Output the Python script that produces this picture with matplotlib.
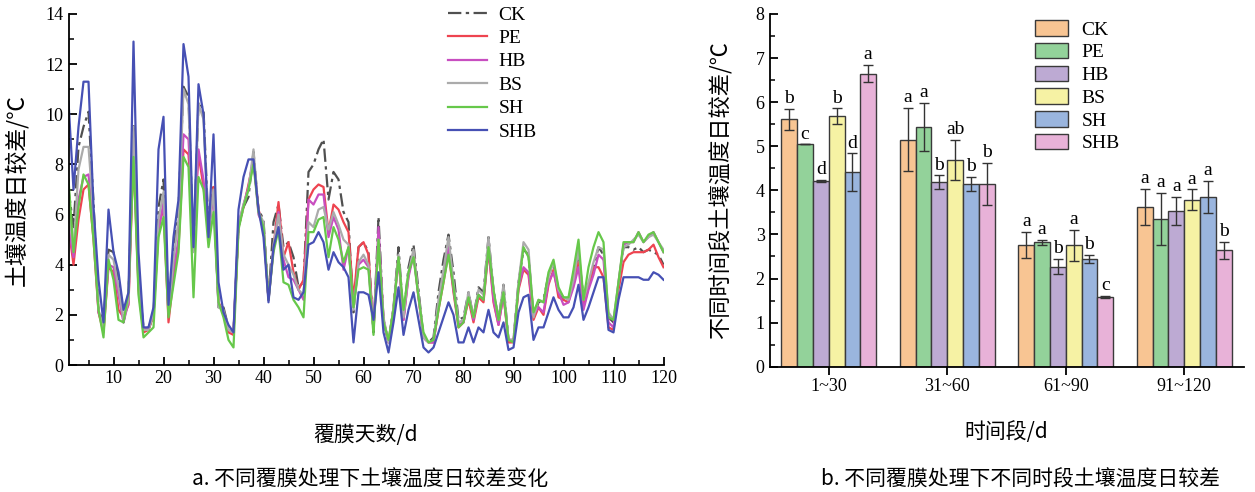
import matplotlib
matplotlib.use("Agg")
import matplotlib.pyplot as plt
import numpy as np
from matplotlib.ticker import MultipleLocator

# ---------------- data: daily range of soil temperature (left) ----------------
days = list(range(1, 121))
series_names = ["CK", "PE", "HB", "BS", "SH", "SHB"]

ck = [7.0, 5.5, 8.7, 9.5, 10.1, 6.5, 2.2, 1.7, 4.6, 4.5,
      3.3, 1.7, 2.7, 9.6, 3.4, 1.5, 1.4, 2.0, 6.3, 7.4,
      2.1, 4.4, 6.3, 11.1, 10.7, 4.5, 10.5, 10.2, 5.5, 7.1,
      2.3, 2.3, 1.5, 1.3, 5.5, 6.3, 6.7, 8.5, 6.2, 5.8,
      2.6, 5.7, 6.4, 4.7, 4.9, 4.3, 3.1, 3.3, 7.7, 8.0,
      8.6, 9.0, 6.6, 7.7, 7.4, 6.1, 5.7, 2.1, 4.7, 4.9,
      4.5, 1.3, 5.9, 1.8, 0.9, 2.3, 4.7, 1.9, 3.9, 4.8,
      3.0, 1.1, 0.9, 1.1, 2.9, 4.2, 5.2, 3.7, 1.8, 1.9,
      2.9, 1.9, 3.1, 2.9, 5.1, 3.0, 1.8, 3.2, 1.0, 1.0,
      3.3, 4.6, 4.4, 1.9, 2.5, 2.6, 3.6, 4.0, 2.9, 2.6,
      2.6, 3.5, 4.4, 2.7, 3.1, 3.9, 4.7, 4.4, 1.9, 1.7,
      3.1, 4.7, 4.7, 4.6, 4.7, 4.5, 4.6, 4.5, 4.4, 4.0]

pe = [5.5, 4.0, 5.8, 7.0, 7.2, 5.0, 2.1, 1.3, 3.9, 3.7,
      2.2, 1.9, 2.4, 8.4, 3.0, 1.3, 1.4, 2.0, 5.5, 6.3,
      1.7, 3.5, 4.7, 8.6, 8.4, 5.3, 8.4, 7.1, 5.3, 7.1,
      2.5, 2.1, 1.3, 1.2, 5.5, 6.3, 7.2, 8.2, 6.2, 5.5,
      2.6, 4.7, 6.5, 4.3, 4.9, 3.7, 3.0, 3.4, 6.6, 7.0,
      7.2, 7.1, 5.3, 6.4, 6.2, 5.7, 5.3, 2.6, 4.7, 4.9,
      4.4, 1.4, 5.0, 1.8, 0.9, 2.2, 4.3, 1.8, 3.6, 4.5,
      2.7, 1.1, 0.9, 0.9, 2.2, 3.3, 4.5, 2.9, 1.5, 1.7,
      2.6, 1.7, 2.7, 2.5, 4.6, 2.5, 1.6, 2.8, 0.9, 0.9,
      3.0, 3.8, 3.6, 1.8, 2.3, 2.0, 3.2, 3.8, 2.7, 2.6,
      2.5, 3.3, 4.1, 2.3, 3.1, 3.9, 3.9, 3.5, 1.5, 1.4,
      3.0, 4.1, 4.4, 4.5, 4.5, 4.5, 4.6, 4.8, 4.3, 3.9]

hb = [5.5, 4.3, 6.6, 7.5, 7.6, 5.5, 2.1, 1.5, 4.0, 3.9,
      2.8, 1.7, 2.5, 9.0, 3.2, 1.4, 1.5, 2.0, 5.3, 6.5,
      2.0, 3.8, 5.0, 9.2, 9.0, 5.0, 8.6, 7.4, 5.2, 6.8,
      2.4, 2.1, 1.4, 1.3, 5.6, 6.4, 7.1, 8.3, 6.0, 5.5,
      2.6, 4.6, 6.1, 4.2, 3.5, 3.4, 3.0, 2.6, 6.6, 6.4,
      6.8, 6.8, 5.1, 5.9, 5.4, 3.8, 4.7, 2.3, 4.0, 4.2,
      3.9, 1.4, 5.5, 1.8, 0.9, 2.2, 4.3, 1.8, 3.5, 4.4,
      2.7, 1.1, 0.9, 0.9, 2.3, 3.5, 4.8, 3.0, 1.6, 1.7,
      2.8, 1.8, 2.8, 2.6, 4.7, 2.6, 1.6, 2.8, 1.0, 1.0,
      3.1, 3.9, 3.7, 2.0, 2.3, 2.1, 3.3, 3.7, 2.9, 2.4,
      2.5, 3.1, 3.9, 2.2, 3.0, 3.6, 4.4, 4.2, 1.7, 1.5,
      3.3, 4.8, 4.9, 4.9, 5.3, 4.9, 5.1, 5.3, 4.9, 4.5]

bs = [6.2, 4.6, 7.8, 8.7, 8.7, 6.0, 2.2, 1.5, 4.4, 4.2,
      3.1, 1.8, 2.6, 9.5, 3.3, 1.4, 1.4, 2.1, 5.8, 6.9,
      2.1, 4.2, 5.8, 11.0, 10.4, 4.5, 10.4, 9.8, 5.3, 7.0,
      2.3, 2.2, 1.4, 1.3, 5.6, 6.4, 7.0, 8.6, 6.1, 5.7,
      2.6, 4.8, 6.0, 4.4, 4.0, 3.6, 3.0, 2.8, 5.7, 5.5,
      6.2, 6.3, 5.4, 6.1, 5.6, 5.0, 4.8, 2.2, 4.1, 4.4,
      4.0, 1.4, 5.0, 1.9, 0.9, 2.3, 4.4, 1.9, 3.7, 4.6,
      2.8, 1.1, 0.9, 1.0, 2.6, 3.8, 5.1, 3.3, 1.7, 1.8,
      2.9, 1.9, 3.0, 2.8, 5.1, 3.0, 1.8, 3.2, 1.0, 1.0,
      3.3, 4.9, 4.6, 1.9, 2.6, 2.5, 3.5, 4.1, 3.0, 2.7,
      2.6, 3.4, 4.6, 2.6, 3.3, 4.1, 4.7, 4.6, 2.1, 1.8,
      3.3, 4.7, 4.8, 5.0, 5.2, 4.9, 5.1, 5.2, 4.9, 4.6]

sh = [7.4, 4.5, 6.3, 7.6, 7.2, 5.0, 2.2, 1.1, 4.2, 3.4,
      1.8, 1.7, 2.9, 8.3, 2.8, 1.1, 1.3, 1.5, 5.1, 5.9,
      1.9, 3.2, 4.5, 8.3, 7.9, 2.7, 7.5, 7.0, 4.7, 6.1,
      2.5, 1.9, 1.0, 0.7, 5.4, 6.3, 7.0, 8.0, 6.1, 5.5,
      2.6, 4.5, 5.4, 3.3, 3.2, 2.6, 2.3, 1.9, 5.3, 5.3,
      5.8, 5.9, 4.3, 5.5, 5.0, 4.1, 4.7, 2.3, 3.8, 3.9,
      3.8, 1.2, 5.0, 1.7, 1.0, 2.2, 4.3, 2.2, 3.7, 4.3,
      2.7, 1.3, 0.9, 1.0, 2.2, 3.3, 4.4, 3.1, 1.5, 1.7,
      2.7, 1.9, 2.8, 2.6, 4.7, 3.0, 1.8, 2.9, 1.0, 0.9,
      3.1, 4.7, 4.3, 2.1, 2.6, 2.5, 3.7, 4.2, 3.1, 2.7,
      2.7, 3.8, 5.0, 2.6, 3.9, 4.7, 5.3, 4.9, 1.9, 1.8,
      3.3, 4.9, 4.9, 4.9, 5.3, 4.9, 5.2, 5.3, 4.9, 4.5]

shb = [10.5, 7.0, 9.5, 11.3, 11.3, 6.3, 3.4, 1.7, 6.2, 4.5,
       3.7, 2.2, 2.9, 12.9, 4.5, 1.5, 1.5, 2.3, 8.6, 9.9,
       2.4, 5.1, 6.6, 12.8, 11.5, 4.7, 11.2, 10.0, 5.1, 9.2,
       3.3, 2.1, 1.6, 1.3, 6.2, 7.5, 8.2, 8.2, 6.2, 5.1,
       2.5, 4.7, 5.5, 3.8, 4.0, 2.7, 2.6, 2.9, 4.8, 4.9,
       5.3, 4.9, 3.8, 4.5, 4.1, 3.9, 3.5, 0.9, 2.9, 2.9,
       2.8, 1.8, 3.7, 1.3, 0.5, 1.7, 3.1, 1.2, 2.2, 2.9,
       1.8, 0.7, 0.5, 0.7, 1.3, 1.9, 2.5, 2.0, 0.9, 0.9,
       1.5, 0.9, 1.5, 1.3, 2.2, 1.3, 1.1, 1.7, 0.6, 0.7,
       2.1, 2.7, 2.8, 1.0, 1.5, 1.5, 2.1, 2.7, 2.2, 1.9,
       1.9, 2.3, 3.2, 1.8, 2.3, 2.9, 3.5, 3.5, 1.4, 1.3,
       2.6, 3.5, 3.5, 3.5, 3.5, 3.4, 3.4, 3.7, 3.6, 3.4]

# ---------------- data: period means (right) ----------------
periods = ["1~30", "31~60", "61~90", "91~120"]
ck_mean = [5.61, 5.15, 2.76, 3.62]
pe_mean = [5.04, 5.44, 2.82, 3.35]
hb_mean = [4.21, 4.19, 2.27, 3.54]
bs_mean = [5.68, 4.69, 2.75, 3.79]
sh_mean = [4.41, 4.15, 2.44, 3.85]
shb_mean = [6.65, 4.15, 1.58, 2.64]

ck_err = [0.24, 0.72, 0.29, 0.41]
pe_err = [0.0, 0.55, 0.05, 0.60]
hb_err = [0.02, 0.15, 0.17, 0.32]
bs_err = [0.18, 0.45, 0.35, 0.23]
sh_err = [0.43, 0.16, 0.09, 0.36]
shb_err = [0.19, 0.48, 0.03, 0.19]

ck_sig = ["b", "a", "a", "a"]
pe_sig = ["c", "a", "a", "a"]
hb_sig = ["d", "b", "b", "a"]
bs_sig = ["b", "ab", "a", "a"]
sh_sig = ["d", "b", "b", "a"]
shb_sig = ["a", "b", "c", "b"]

# ---------------- styles ----------------
SERIF = ["Liberation Serif", "DejaVu Serif"]
CJK = ["Noto Sans CJK SC", "DejaVu Sans"]
plt.rcParams["font.family"] = SERIF

line_series = [ck, pe, hb, bs, sh, shb]
line_colors = ["#505050", "#EE4450", "#C84EC0", "#ABABAB", "#66C84A", "#4650B4"]
line_styles = [(0, (6, 2, 1.5, 2)), "-", "-", "-", "-", "-"]

means = [ck_mean, pe_mean, hb_mean, bs_mean, sh_mean, shb_mean]
errs = [ck_err, pe_err, hb_err, bs_err, sh_err, shb_err]
sigs = [ck_sig, pe_sig, hb_sig, bs_sig, sh_sig, shb_sig]
bar_colors = ["#F8C593", "#93D29A", "#BDAAD3", "#F6F2A4", "#9AB5DE", "#E8B2D8"]

fig = plt.figure(figsize=(12.55, 4.92), dpi=100)

# ---------------- left chart ----------------
ax1 = fig.add_axes([68.5 / 1255, 1 - 365 / 492, 595 / 1255, 351 / 492])
for vals, c, ls, name in zip(line_series, line_colors, line_styles, series_names):
    ax1.plot(days, vals, color=c, linestyle=ls, linewidth=1.6, label=name)
ax1.set_xlim(1, 120)
ax1.set_ylim(0, 14)
ax1.xaxis.set_major_locator(MultipleLocator(10))
ax1.xaxis.set_minor_locator(MultipleLocator(5))
ax1.yaxis.set_major_locator(MultipleLocator(2))
ax1.yaxis.set_minor_locator(MultipleLocator(1))
ax1.set_xticks(range(10, 121, 10))
ax1.tick_params(axis="both", which="major", direction="in", length=6, width=1.3, labelsize=13)
ax1.tick_params(axis="both", which="minor", direction="in", length=3.5, width=1.1)
for s in ["top", "right"]:
    ax1.spines[s].set_visible(False)
for s in ["left", "bottom"]:
    ax1.spines[s].set_linewidth(1.3)
ax1.set_ylabel("土壤温度日较差/℃", family=CJK, fontsize=16.5)
ax1.yaxis.set_label_coords(-0.068, 0.5)
ax1.set_xlabel("覆膜天数/d", family=CJK, fontsize=15, labelpad=27)
leg1 = ax1.legend(loc="upper left", bbox_to_anchor=(0.625, 1.045), frameon=False,
                  fontsize=14, handlelength=2.0, labelspacing=0.3, handletextpad=0.6,
                  borderaxespad=0)

# ---------------- right chart ----------------
ax2 = fig.add_axes([769.5 / 1255, 1 - 366.7 / 492, 474 / 1255, 352.7 / 492])
n = len(series_names)
width = 0.133
x = np.arange(len(periods))
for i, (m, e, sg, c, name) in enumerate(zip(means, errs, sigs, bar_colors, series_names)):
    pos = x + (i - (n - 1) / 2) * width
    ax2.bar(pos, m, width=width, color=c, edgecolor="#3a3a3a", linewidth=1.0, label=name, zorder=2)
    ax2.errorbar(pos, m, yerr=e, fmt="none", ecolor="#333333", elinewidth=1.0,
                 capsize=3.5, capthick=1.0, zorder=3)
    for p, mv, ev, s in zip(pos, m, e, sg):
        ax2.text(p, mv + ev + 0.04, s, ha="center", va="bottom", fontsize=14, family=SERIF)
ax2.set_xlim(-0.5, 3.5)
ax2.set_ylim(0, 8)
ax2.set_xticks(x)
ax2.set_xticklabels(periods)
ax2.yaxis.set_major_locator(MultipleLocator(1))
ax2.yaxis.set_minor_locator(MultipleLocator(0.5))
ax2.tick_params(axis="y", which="major", direction="in", length=6, width=1.3, labelsize=13)
ax2.tick_params(axis="y", which="minor", direction="in", length=3.5, width=1.1)
ax2.tick_params(axis="x", which="major", direction="out", length=6, width=1.3, labelsize=13, pad=2)
for s in ["top", "right"]:
    ax2.spines[s].set_visible(False)
for s in ["left", "bottom"]:
    ax2.spines[s].set_linewidth(1.3)
ax2.set_ylabel("不同时间段土壤温度日较差/℃", family=CJK, fontsize=16)
ax2.yaxis.set_label_coords(-0.08, 0.5)
ax2.set_xlabel("时间段/d", family=CJK, fontsize=15, labelpad=19)
leg2 = ax2.legend(loc="upper left", bbox_to_anchor=(0.543, 1.005), frameon=False,
                  fontsize=14, handlelength=1.7, handleheight=0.85, labelspacing=0.22,
                  handletextpad=0.7, borderaxespad=0)

# ---------------- captions ----------------
fig.text(370 / 1255, 1 - 480 / 492, "a. 不同覆膜处理下土壤温度日较差变化", family=CJK,
         fontsize=15, ha="center", va="center")
fig.text(1020 / 1255, 1 - 480 / 492, "b. 不同覆膜处理下不同时段土壤温度日较差", family=CJK,
         fontsize=15, ha="center", va="center")

fig.savefig("out.png", dpi=100)
